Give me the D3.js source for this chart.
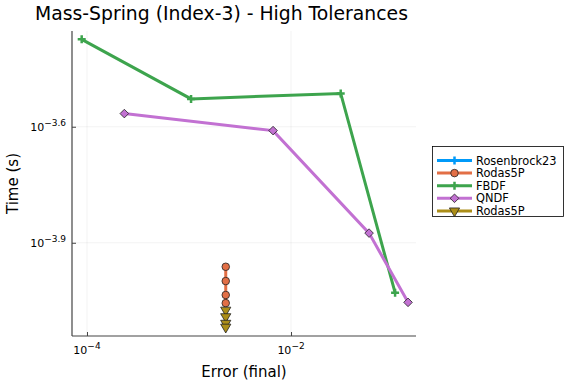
<!DOCTYPE html>
<html><head><meta charset="utf-8">
<script src="https://cdn.jsdelivr.net/npm/d3@7"></script>
<style>body{margin:0;background:#fff}svg{display:block;font-family:"DejaVu Sans",sans-serif}</style>
</head><body><svg id="c" width="576" height="384"></svg>
<script>
// data (log10 values)
const seriesNames = ["Rosenbrock23","Rodas5P","FBDF","QNDF","Rodas5P"];
const seriesColors = ["#009af9","#e26f46","#3da44d","#c271d2","#ac8e18"];
const seriesMarkers = ["cross","circle","cross","diamond","triangle"];
const rosenbrockErr = [];
const rosenbrockTime = [];
const rodasErr = [-2.640,-2.640,-2.640,-2.640];
const rodasTime = [-3.962,-3.999,-4.035,-4.056];
const fbdfErr = [-4.052,-2.980,-1.513,-0.980];
const fbdfTime = [-3.374,-3.528,-3.514,-4.029];
const qndfErr = [-3.634,-2.176,-1.235,-0.853];
const qndfTime = [-3.566,-3.610,-3.875,-4.054];
const rodas2Err = [-2.640,-2.640,-2.640,-2.640];
const rodas2Time = [-4.074,-4.091,-4.108,-4.118];
const xTicks = [-4,-2];
const yTicks = [-3.9,-3.6];

const svg = d3.select("#c");
const L=72,R=416,T=31,B=336;
const x = d3.scaleLinear().domain([-4.147,-0.775]).range([L,R]);
const y = d3.scaleLinear().domain([-4.141,-3.3525]).range([B,T]);

// grid
svg.append("g").selectAll("line").data(xTicks).join("line")
  .attr("x1",d=>x(d)).attr("x2",d=>x(d)).attr("y1",T).attr("y2",B)
  .attr("stroke","#000").attr("stroke-opacity",0.1).attr("stroke-width",0.5);
svg.append("g").selectAll("line").data(yTicks).join("line")
  .attr("y1",d=>y(d)).attr("y2",d=>y(d)).attr("x1",L).attr("x2",R)
  .attr("stroke","#000").attr("stroke-opacity",0.1).attr("stroke-width",0.5);

// axes
const xa = svg.append("g").attr("transform",`translate(0,${B})`)
  .call(d3.axisBottom(x).tickValues(xTicks).tickSize(-4).tickFormat(""));
const ya = svg.append("g").attr("transform",`translate(${L},0)`)
  .call(d3.axisLeft(y).tickValues(yTicks).tickSize(-4).tickFormat(""));
[xa,ya].forEach(a=>{a.select(".domain").attr("stroke","#444").attr("stroke-width",1.2);
  a.selectAll(".tick line").attr("stroke","#444");});
xa.select(".domain").attr("d",`M${L},0H${R}`);
ya.select(".domain").attr("d",`M0,${T}V${B}`);

// tick labels
xTicks.forEach(t=>{
  const tx = svg.append("text").attr("x",x(t)).attr("y",B+18).attr("text-anchor","middle")
    .attr("font-size",11).attr("fill","#000");
  tx.append("tspan").text("10");
  tx.append("tspan").attr("dy",-5).attr("font-size",9).text("−"+Math.abs(t));
});
yTicks.forEach(t=>{
  const tx = svg.append("text").attr("x",L-6).attr("y",y(t)+4).attr("text-anchor","end")
    .attr("font-size",11).attr("fill","#000");
  tx.append("tspan").text("10");
  tx.append("tspan").attr("dy",-5).attr("font-size",9).text("−"+Math.abs(t).toFixed(1));
});

// labels
svg.append("text").attr("x",35).attr("y",20).attr("font-size",18.8).attr("fill","#000")
  .text("Mass-Spring (Index-3) - High Tolerances");
svg.append("text").attr("x",(L+R)/2).attr("y",377).attr("text-anchor","middle")
  .attr("font-size",15).text("Error (final)");
svg.append("text").attr("transform",`translate(18,${(T+B)/2}) rotate(-90)`).attr("text-anchor","middle")
  .attr("font-size",15).text("Time (s)");

const sym = {
  circle: d3.symbol().type(d3.symbolCircle).size(45),
  triangle: d3.symbol().type(d3.symbolTriangle).size(45)
};
function drawMarker(g,type,color,cx,cy){
  if(type==="cross"){
    g.append("path").attr("d",`M${cx-4},${cy}H${cx+4}M${cx},${cy-4}V${cy+4}`)
      .attr("stroke",color).attr("stroke-width",2.5).attr("fill","none");
  } else if(type==="diamond"){
    const r=4.3;
    g.append("path").attr("d",`M${cx},${cy-r}L${cx+r},${cy}L${cx},${cy+r}L${cx-r},${cy}Z`)
      .attr("fill",color).attr("stroke","#222").attr("stroke-width",0.8);
  } else {
    g.append("path").attr("d",sym[type]()).attr("transform",`translate(${cx},${cy})${type==="triangle"?" rotate(180)":""}`)
      .attr("fill",color).attr("stroke","#222").attr("stroke-width",0.8);
  }
}
const series = [
  [rosenbrockErr,rosenbrockTime],[rodasErr,rodasTime],[fbdfErr,fbdfTime],[qndfErr,qndfTime],[rodas2Err,rodas2Time]
];
const line = d3.line().x(d=>x(d[0])).y(d=>y(d[1]));
const plot = svg.append("g");
series.forEach((s,i)=>{
  const pts = s[0].map((e,j)=>[e,s[1][j]]);
  if(pts.length>1) plot.append("path").attr("d",line(pts)).attr("fill","none")
    .attr("stroke",seriesColors[i]).attr("stroke-width",3);
  pts.forEach(p=>drawMarker(plot,seriesMarkers[i],seriesColors[i],x(p[0]),y(p[1])));
});

// legend
const lg = svg.append("g");
lg.append("rect").attr("x",432.5).attr("y",146.5).attr("width",131).attr("height",70)
  .attr("fill","#fff").attr("stroke","#000").attr("stroke-width",0.8);
seriesNames.forEach((n,i)=>{
  const yy = 160.5+i*12.6;
  lg.append("line").attr("x1",437).attr("x2",472).attr("y1",yy).attr("y2",yy)
    .attr("stroke",seriesColors[i]).attr("stroke-width",3);
  drawMarker(lg,seriesMarkers[i],seriesColors[i],454.5,yy);
  lg.append("text").attr("x",476).attr("y",yy+4).attr("font-size",11.4).text(n);
});
</script></body></html>
